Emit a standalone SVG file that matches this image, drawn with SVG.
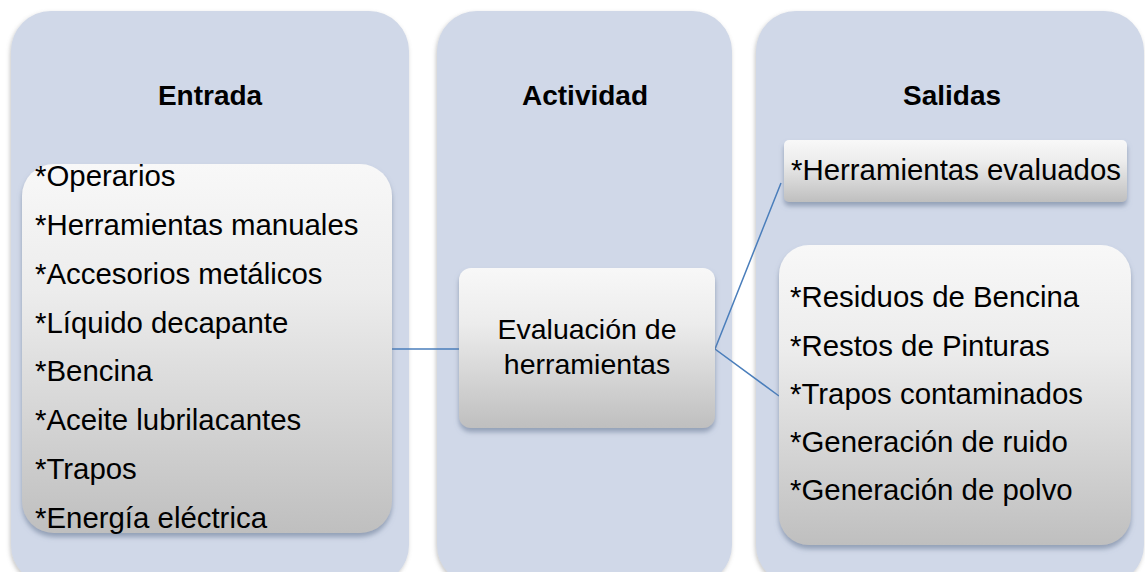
<svg xmlns="http://www.w3.org/2000/svg" width="1145" height="572" viewBox="0 0 1145 572">
<style>
.panel{fill:#d0d8e8;filter:url(#ps)}
.box{fill:url(#g);filter:url(#bs)}
.hd{font-family:"Liberation Sans",Arial,sans-serif;font-weight:bold;font-size:28px;fill:#000;text-anchor:middle}
.tx{font-family:"Liberation Sans",Arial,sans-serif;font-size:29.4px;fill:#000}
.mid{text-anchor:middle;font-size:28.5px}
.conn{stroke:#4a7ebb;stroke-width:1.5;fill:none}
</style>
<defs>
<linearGradient id="g" x1="0" y1="0" x2="0" y2="1">
<stop offset="0" stop-color="#f8f8f8"/>
<stop offset="0.35" stop-color="#ececec"/>
<stop offset="1" stop-color="#bfbfbf"/>
</linearGradient>
<filter id="ps" x="-10%" y="-10%" width="120%" height="120%">
<feDropShadow dx="-1" dy="2" stdDeviation="2" flood-color="#808080" flood-opacity="0.45"/>
</filter>
<filter id="bs" x="-10%" y="-10%" width="120%" height="125%">
<feDropShadow dx="0" dy="4" stdDeviation="2.5" flood-color="#6a7a94" flood-opacity="0.6"/>
</filter>
</defs>
<rect width="1145" height="572" fill="#fff"/>
<g id="panel-entrada">
<rect class="panel" x="11" y="11" width="398" height="574" rx="40"/>
<text class="hd" x="210" y="105">Entrada</text>
</g>
<g id="panel-actividad">
<rect class="panel" x="437" y="11" width="295" height="574" rx="40"/>
<text class="hd" x="585" y="105">Actividad</text>
</g>
<g id="panel-salidas">
<rect class="panel" x="756" y="11" width="388" height="574" rx="40"/>
<text class="hd" x="952" y="105">Salidas</text>
</g>
<g id="connectors">
<line class="conn" x1="392" y1="349" x2="459" y2="349"/>
<polyline class="conn" points="781,183 715,349 779,396"/>
</g>
<g id="entradas">
<rect class="box" x="22" y="164" width="370" height="369" rx="32"/>
<text class="tx" x="35" y="186">*Operarios</text>
<text class="tx" x="35" y="235">*Herramientas manuales</text>
<text class="tx" x="35" y="284">*Accesorios metálicos</text>
<text class="tx" x="35" y="333">*Líquido decapante</text>
<text class="tx" x="35" y="381">*Bencina</text>
<text class="tx" x="35" y="430">*Aceite lubrilacantes</text>
<text class="tx" x="35" y="479">*Trapos</text>
<text class="tx" x="35" y="528">*Energía eléctrica</text>
</g>
<g id="actividad">
<rect class="box" x="459" y="268" width="256" height="160" rx="12"/>
<text class="tx mid" x="587" y="339">Evaluación de</text>
<text class="tx mid" x="587" y="374">herramientas</text>
</g>
<g id="salida-herramientas">
<rect class="box" x="784" y="140" width="343" height="62" rx="5"/>
<text class="tx" x="791" y="180">*Herramientas evaluados</text>
</g>
<g id="salidas-residuos">
<rect class="box" x="779" y="245" width="352" height="300" rx="30"/>
<text class="tx" x="790" y="307">*Residuos de Bencina</text>
<text class="tx" x="790" y="356">*Restos de Pinturas</text>
<text class="tx" x="790" y="404">*Trapos contaminados</text>
<text class="tx" x="790" y="452">*Generación de ruido</text>
<text class="tx" x="790" y="500">*Generación de polvo</text>
</g>
</svg>
